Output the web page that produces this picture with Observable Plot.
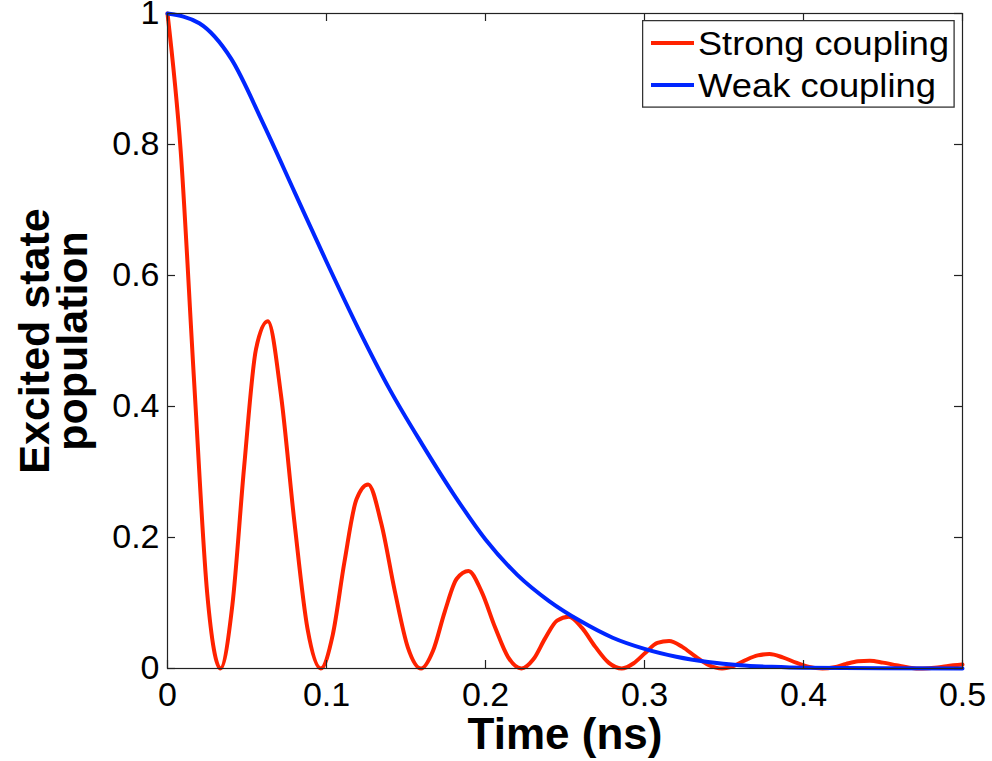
<!DOCTYPE html>
<html>
<head>
<meta charset="utf-8">
<script src="https://cdn.jsdelivr.net/npm/d3@7"></script>
<script src="https://cdn.jsdelivr.net/npm/@observablehq/plot@0.6"></script>
<style>
  body { margin: 0; background: #fff; }
  #wrap { position: relative; width: 992px; height: 761px; font-family: "Liberation Sans", Arial, sans-serif; }
  #wrap svg { display: block; }
  #legend { position: absolute; left: 642px; top: 20px; }
</style>
</head>
<body>
<div id="wrap"></div>
<script>
// ---------- data ----------
const xTicks = [0, 0.1, 0.2, 0.3, 0.4, 0.5];
const xTickLabels = ["0", "0.1", "0.2", "0.3", "0.4", "0.5"];
const yTicks = [0, 0.2, 0.4, 0.6, 0.8, 1];
const yTickLabels = ["0", "0.2", "0.4", "0.6", "0.8", "1"];

const seriesNames = ["Strong coupling", "Weak coupling"];
const seriesColors = ["#ff2200", "#0026ff"];

const xLabel = "Time (ns)";
const yLabel = "Excited state\npopulation";

const strongTime = [0, 0.0083, 0.0167, 0.025, 0.0333,
  0.0408, 0.0482, 0.0557, 0.0631,
  0.0714, 0.0798, 0.0881, 0.0964,
  0.1039, 0.1113, 0.1188, 0.1262,
  0.1345, 0.1429, 0.1512, 0.1595,
  0.167, 0.1744, 0.1819, 0.1893,
  0.1976, 0.206, 0.2143, 0.2226,
  0.2301, 0.2375, 0.245, 0.2524,
  0.2607, 0.2691, 0.2774, 0.2857,
  0.2932, 0.3006, 0.3081, 0.3155,
  0.3238, 0.3322, 0.3405, 0.3488,
  0.3563, 0.3637, 0.3712, 0.3786,
  0.3869, 0.3953, 0.4036, 0.4119,
  0.4194, 0.4268, 0.4343, 0.4417,
  0.45, 0.4584, 0.4667, 0.475,
  0.4825, 0.49, 0.5];
const strongPop = [1, 0.79, 0.44, 0.114, 0,
  0.097, 0.308, 0.488, 0.530,
  0.417, 0.224, 0.060, 0,
  0.051, 0.163, 0.258, 0.281,
  0.221, 0.119, 0.032, 0,
  0.027, 0.087, 0.137, 0.149,
  0.117, 0.063, 0.017, 0,
  0.014, 0.046, 0.073, 0.079,
  0.062, 0.033, 0.009, 0,
  0.008, 0.024, 0.039, 0.042,
  0.033, 0.018, 0.005, 0,
  0.004, 0.013, 0.020, 0.022,
  0.017, 0.009, 0.0025, 0,
  0.002, 0.007, 0.011, 0.012,
  0.009, 0.005, 0.0013, 0,
  0.001, 0.0036, 0.006];

const weakTime = [0, 0.02, 0.04, 0.06, 0.08, 0.10, 0.12, 0.14, 0.16, 0.18, 0.20,
  0.22, 0.24, 0.26, 0.28, 0.30, 0.32, 0.34, 0.36, 0.38, 0.40, 0.45, 0.50];
const weakPop = [1.000, 0.985, 0.931, 0.833, 0.727, 0.621, 0.519, 0.425, 0.343, 0.266, 0.197,
  0.143, 0.103, 0.072, 0.047, 0.030, 0.018, 0.010, 0.005, 0.0025, 0.001, 0.0002, 0.0];

// ---------- tables ----------
const strong = strongTime.map((t, i) => ({t, p: strongPop[i]}));
const weak = weakTime.map((t, i) => ({t, p: weakPop[i]}));

// ---------- layout ----------
const W = 992, H = 761, ML = 167, MR = 30, MT = 13, MB = 93;
const innerW = W - ML - MR, innerH = H - MT - MB, tick = 8;
const font = "'Liberation Sans', Arial, Helvetica, sans-serif";
const axisColor = "#222";

const chart = Plot.plot({
  width: W, height: H,
  marginLeft: ML, marginRight: MR, marginTop: MT, marginBottom: MB,
  style: {fontFamily: font, background: "#fff", color: "#000", overflow: "visible"},
  x: {domain: [0, 0.5]},
  y: {domain: [0, 1]},
  marks: [
    Plot.line(strong, {x: "t", y: "p", stroke: seriesColors[0], strokeWidth: 4, curve: "monotone-x"}),
    Plot.line(weak, {x: "t", y: "p", stroke: seriesColors[1], strokeWidth: 4, curve: "monotone-x"}),
    Plot.frame({stroke: axisColor, strokeWidth: 1.2}),
    Plot.ruleX(xTicks, {x: d => d, insetTop: innerH - tick, stroke: axisColor, strokeWidth: 1.2}),
    Plot.ruleX(xTicks, {x: d => d, insetBottom: innerH - tick, stroke: axisColor, strokeWidth: 1.2}),
    Plot.ruleY(yTicks, {y: d => d, insetRight: innerW - tick, stroke: axisColor, strokeWidth: 1.2}),
    Plot.ruleY(yTicks, {y: d => d, insetLeft: innerW - tick, stroke: axisColor, strokeWidth: 1.2}),
    Plot.axisX({ticks: xTicks, tickFormat: d => xTickLabels[xTicks.indexOf(d)], tickSize: 0, tickPadding: 13,
      fontSize: 34, label: null, fill: "#000"}),
    Plot.axisY({ticks: yTicks, tickFormat: d => yTickLabels[yTicks.indexOf(d)], tickSize: 0, tickPadding: 8,
      fontSize: 34, label: null, fill: "#000"}),
    Plot.text([xLabel], {frameAnchor: "bottom", dy: 66, fontSize: 44, fontWeight: "bold", lineAnchor: "middle", fill: "#000"}),
    Plot.text([yLabel], {frameAnchor: "left", rotate: -90, dx: -112, fontSize: 43, fontWeight: "bold",
      lineHeight: 0.88, lineAnchor: "middle", textAnchor: "middle", fill: "#000"})
  ]
});

const wrap = document.getElementById("wrap");
wrap.appendChild(chart);

// ---------- legend (overlaid in the upper-right corner) ----------
const legendTextLength = [251, 238];
const lg = d3.select(wrap).append("svg")
  .attr("id", "legend")
  .attr("width", 314).attr("height", 89);
lg.append("rect").attr("x", 0.6).attr("y", 0.6).attr("width", 311.5).attr("height", 86.5)
  .attr("fill", "#fff").attr("stroke", "#333").attr("stroke-width", 1.3);
seriesNames.forEach((name, i) => {
  const cy = 23 + i * 42;
  lg.append("line").attr("x1", 9).attr("x2", 52).attr("y1", cy).attr("y2", cy)
    .attr("stroke", seriesColors[i]).attr("stroke-width", 4);
  lg.append("text").attr("x", 56).attr("y", cy + 12)
    .attr("font-family", font).attr("font-size", 33).attr("fill", "#000")
    .attr("textLength", legendTextLength[i]).attr("lengthAdjust", "spacingAndGlyphs")
    .text(name);
});
</script>
</body>
</html>
